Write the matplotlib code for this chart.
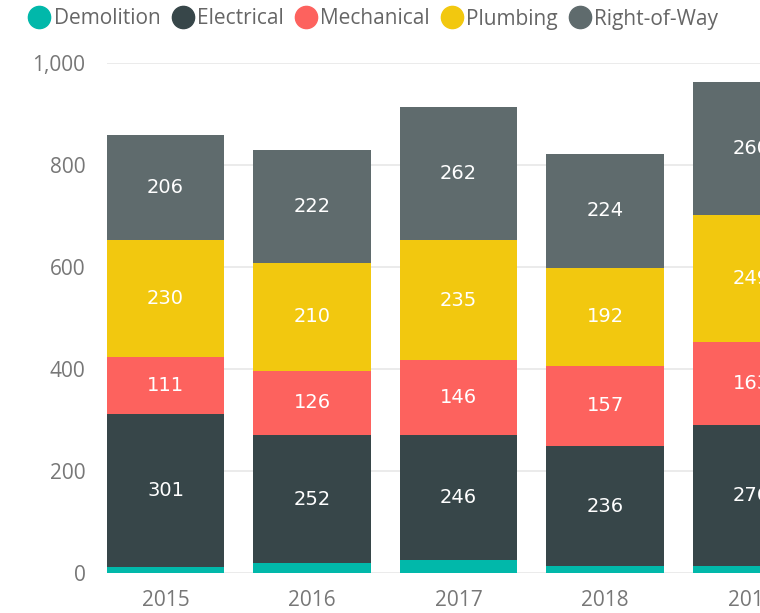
import numpy as np
import matplotlib.pyplot as plt
from matplotlib.lines import Line2D

years = ['2015', '2016', '2017', '2018', '2019']
demolition = [11, 19, 25, 13, 14]
electrical = [301, 252, 246, 236, 276]
mechanical = [111, 126, 146, 157, 163]
plumbing = [230, 210, 235, 192, 249]
right_of_way = [206, 222, 262, 224, 260]

series = [('Demolition', demolition, '#01B8AA', False),
          ('Electrical', electrical, '#374649', True),
          ('Mechanical', mechanical, '#FD625E', True),
          ('Plumbing', plumbing, '#F2C80F', True),
          ('Right-of-Way', right_of_way, '#5F6B6D', True)]

plt.rcParams['font.family'] = ['Open Sans', 'DejaVu Sans']

fig = plt.figure(figsize=(7.6, 6.13), dpi=100)
ax = fig.add_axes([107 / 760, 40 / 613, 653 / 760, 510 / 613])

x = np.arange(len(years))
bottom = np.zeros(len(years))
for name, vals, color, show in series:
    ax.bar(x, vals, 0.8, bottom=bottom, color=color, zorder=2)
    if show:
        # labels centred in each segment, the last bar runs off the edge
        for xi, b, v in zip(x, bottom, vals):
            ax.text(xi, b + v / 2, str(v), ha='center', va='center',
                    color='white', fontsize=14, family='DejaVu Sans',
                    clip_on=False, zorder=3)
    bottom += np.array(vals)

ax.set_xlim(-0.4, 4.058)
ax.set_ylim(0, 1000)
ax.set_yticks([0, 200, 400, 600, 800, 1000])
ax.set_yticklabels(['0', '200', '400', '600', '800', '1,000'])
ax.set_xticks(x)
ax.set_xticklabels(years)
ax.tick_params(axis='both', length=0, labelsize=15, labelcolor='#777777')
ax.tick_params(axis='x', pad=12)
ax.tick_params(axis='y', pad=15.5)
ax.grid(axis='y', color='#e8e8e8', linewidth=1.2, zorder=0)
ax.set_axisbelow(True)
for s in ax.spines.values():
    s.set_visible(False)

handles = [Line2D([], [], marker='o', linestyle='', markersize=16,
                  markerfacecolor=c, markeredgecolor=c) for _, _, c, _ in series]
fig.legend(handles, [s[0] for s in series], loc='center left',
           bbox_to_anchor=(31 / 760, 1 - 19 / 613), ncol=5, frameon=False,
           handlelength=0.8, handletextpad=0.3, columnspacing=0.65,
           borderaxespad=0.0, borderpad=0.0,
           prop={'size': 15}, labelcolor='#666666')

fig.savefig('out.png', dpi=100)
